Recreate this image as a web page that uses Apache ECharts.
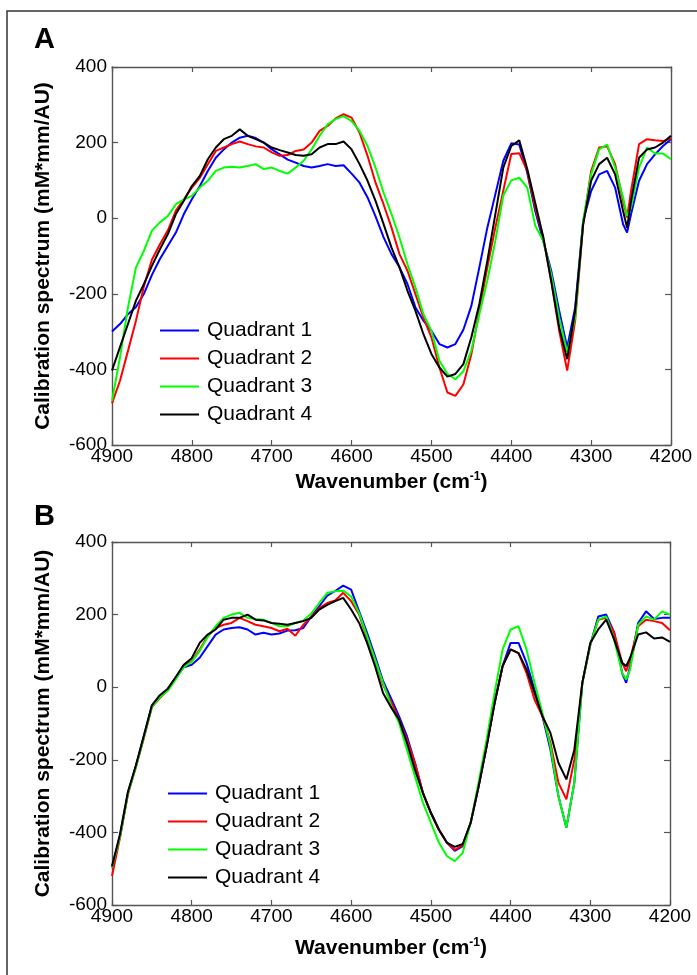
<!DOCTYPE html>
<html>
<head>
<meta charset="utf-8">
<script src="https://cdn.jsdelivr.net/npm/echarts@6/dist/echarts.min.js"></script>
<style>
html,body{margin:0;padding:0;background:#fff;}
#chart{width:697px;height:975px;}
</style>
</head>
<body>
<div id="chart"></div>
<script>
const WAVENUMBERS = [4900,4890,4880,4870,4860,4850,4840,4830,4820,4810,
  4800,4790,4780,4770,4760,4750,4740,4730,4720,4710,
  4700,4690,4680,4670,4660,4650,4640,4630,4620,4610,
  4600,4590,4580,4570,4560,4550,4540,4530,4520,4510,
  4500,4490,4480,4470,4460,4450,4440,4430,4420,4410,
  4400,4390,4380,4370,4360,4350,4340,4330,4320,4310,
  4300,4290,4280,4270,4260,
  4255,4250,4240,4230,4220,4210,4200];

const SERIES_NAMES = ['Quadrant 1','Quadrant 2','Quadrant 3','Quadrant 4'];
const X_TICKS = [4900,4800,4700,4600,4500,4400,4300,4200];
const Y_TICKS = [400,200,0,-200,-400,-600];

// Panel A
const A_Q1 = [-300,-280,-254,-235,-200,-150,-108,-73,-38,11,
  50,85,125,160,182,200,213,218,212,200,
  182,169,155,147,138,134,138,143,138,140,
  118,94,55,5,-50,-95,-130,-174,-236,-271,
  -298,-333,-342,-333,-295,-232,-130,-25,63,152,
  198,195,120,19,-60,-139,-245,-342,-236,-7,
  72,116,125,81,-16,
  -38,11,99,143,169,191,209];
const A_Q2 = [-490,-430,-351,-271,-180,-110,-69,-32,20,50,
  81,107,143,178,187,196,203,196,190,187,
  174,165,167,178,182,200,231,244,264,275,
  266,226,165,94,37,-25,-95,-139,-201,-263,
  -315,-395,-461,-470,-440,-360,-244,-130,-25,73,
  170,172,125,28,-51,-166,-298,-403,-271,-16,
  125,187,190,143,46,
  2,72,196,209,206,204,211];
const A_Q3 = [-483,-368,-236,-130,-86,-33,-11,6,37,50,
  59,81,99,125,134,136,134,138,143,130,
  134,125,118,134,152,182,218,248,262,270,
  257,231,191,134,68,11,-51,-122,-183,-254,
  -298,-377,-412,-426,-405,-350,-254,-165,-60,60,
  100,107,81,-20,-60,-148,-263,-355,-263,-7,
  116,182,195,134,55,
  6,28,134,187,171,171,156];
const A_Q4 = [-403,-341,-280,-218,-174,-126,-82,-42,11,46,
  85,112,156,187,209,218,235,218,209,200,
  187,180,174,167,165,169,187,196,196,203,
  182,143,99,46,-15,-78,-130,-192,-245,-307,
  -359,-395,-419,-412,-386,-315,-227,-113,10,134,
  191,206,130,40,-50,-166,-289,-373,-245,-16,
  99,143,160,116,19,
  -25,46,160,182,187,200,218];

// Panel B
const B_Q1 = [-497,-410,-291,-217,-135,-52,-25,-6,26,55,
  62,81,113,145,159,163,165,159,145,150,
  145,148,156,157,163,195,223,252,265,280,
  269,209,150,85,17,-30,-80,-135,-208,-291,
  -346,-392,-428,-451,-438,-373,-272,-162,-43,58,
  122,122,67,-6,-80,-172,-300,-387,-263,12,
  117,195,200,150,39,
  12,58,177,209,188,191,191];
const B_Q2 = [-520,-415,-295,-220,-140,-55,-30,-8,26,60,
  72,104,140,163,172,177,191,182,172,168,
  163,154,161,142,172,193,218,232,239,260,
  237,200,136,76,7,-40,-89,-144,-208,-291,
  -346,-392,-428,-448,-435,-373,-272,-162,-43,58,
  104,94,39,-34,-80,-153,-263,-309,-199,12,
  117,186,191,150,67,
  44,76,168,186,182,177,157];
const B_Q3 = [-497,-412,-293,-220,-137,-55,-28,-10,22,55,
  70,100,138,168,191,200,205,191,188,186,
  177,168,168,177,184,203,232,260,264,266,
  250,204,140,76,12,-50,-98,-172,-245,-318,
  -373,-428,-465,-479,-456,-373,-260,-144,-15,104,
  159,168,104,12,-71,-162,-300,-387,-263,12,
  117,186,195,131,39,
  21,49,172,195,186,209,200];
const B_Q4 = [-493,-405,-288,-215,-133,-50,-22,-4,28,62,
  80,122,145,159,186,191,191,200,186,184,
  177,175,172,177,182,191,214,227,237,246,
  214,177,122,58,-16,-55,-89,-153,-227,-291,
  -346,-392,-428,-440,-432,-373,-272,-162,-43,58,
  104,94,49,-15,-80,-126,-208,-254,-172,12,
  122,159,186,131,67,
  58,81,145,151,134,137,125];

const COLORS = ['#0000ff','#ff0000','#00ff00','#000000'];
const FONT = '"Liberation Sans", Arial, Helvetica, sans-serif';
const AXIS_COLOR = '#555';

function pairs(vals){ return WAVENUMBERS.map((w,i)=>[w, vals[i]]); }

const xMin = X_TICKS[X_TICKS.length-1], xMax = X_TICKS[0];
const yMin = Y_TICKS[Y_TICKS.length-1], yMax = Y_TICKS[0];

function xAxis(grid, pos, main, gap){
  return {
    type:'value', gridIndex:grid, position:pos, inverse:true,
    min:xMin, max:xMax, interval:100,
    axisLine:{show:true, onZero:false, lineStyle:{color:AXIS_COLOR, width:1.4}},
    axisTick:{show:true, inside:true, length:5, lineStyle:{color:AXIS_COLOR, width:1.2}},
    axisLabel:{show:main, fontSize:19, color:'#000', fontFamily:FONT, margin:2,
      formatter:function(v){ return String(v); }},
    splitLine:{show:false},
    name: main ? '{a|Wavenumber (cm}{b|-1}{a|)}' : '',
    nameLocation:'middle', nameGap:gap || 26,
    nameTextStyle:{rich:{
      a:{fontSize:21, fontWeight:'bold', fontFamily:FONT, color:'#000', lineHeight:22},
      b:{fontSize:12, fontWeight:'bold', fontFamily:FONT, color:'#000', verticalAlign:'top', lineHeight:22}
    }}
  };
}
function yAxis(grid, pos, main){
  return {
    type:'value', gridIndex:grid, position:pos,
    min:yMin, max:yMax, interval:200,
    axisLine:{show:true, onZero:false, lineStyle:{color:AXIS_COLOR, width:1.4}},
    axisTick:{show:true, inside:true, length:6, lineStyle:{color:AXIS_COLOR, width:1.2}},
    axisLabel:{show:main, fontSize:19, color:'#000', fontFamily:FONT, margin:5,
      formatter:function(v){ return String(v); }},
    splitLine:{show:false},
    name: main ? 'Calibration spectrum (mM*mm/AU)' : '',
    nameLocation:'middle', nameRotate:90, nameGap:58,
    nameTextStyle:{fontSize:21, fontWeight:'bold', fontFamily:FONT, color:'#000'}
  };
}

const dataA = [A_Q1, A_Q2, A_Q3, A_Q4];
const dataB = [B_Q1, B_Q2, B_Q3, B_Q4];
const series = [];
[dataA, dataB].forEach((set, g)=>{
  set.forEach((vals, i)=>{
    series.push({
      type:'line', name:SERIES_NAMES[i],
      xAxisIndex: g*2, yAxisIndex: g*2,
      data: pairs(vals), showSymbol:false, symbol:'none',
      lineStyle:{color:COLORS[i], width:2}, itemStyle:{color:COLORS[i]},
      silent:true, z: 2+i
    });
  });
});

function legend(left, top){
  return {
    data: SERIES_NAMES, orient:'vertical', left:left, top:top,
    icon:'rect', itemWidth:39, itemHeight:2, itemGap:7, padding:0,
    selectedMode:false,
    textStyle:{fontSize:21, fontFamily:FONT, color:'#000', lineHeight:21, padding:[0,0,0,3]}
  };
}

const chart = echarts.init(document.getElementById('chart'), null, {renderer:'canvas'});
chart.setOption({
  animation:false,
  backgroundColor:'#fff',
  grid:[
    {left:112, top:67, width:559, height:378, outerBoundsMode:'none'},
    {left:112, top:542, width:558, height:363, outerBoundsMode:'none'}
  ],
  xAxis:[xAxis(0,'bottom',true,26), xAxis(0,'top',false), xAxis(1,'bottom',true,32), xAxis(1,'top',false)],
  yAxis:[yAxis(0,'left',true), yAxis(0,'right',false), yAxis(1,'left',true), yAxis(1,'right',false)],
  legend:[legend(160, 320), legend(168, 783)],
  series: series,
  graphic:[
    {type:'polyline', silent:true, shape:{points:[[7,975],[7,11],[697,11]]}, style:{stroke:'#333', lineWidth:1.5, fill:null}},
    {type:'text', silent:true, style:{text:'A', x:34, y:40, font:'bold 29px ' + FONT, fill:'#000', textVerticalAlign:'middle'}},
    {type:'text', silent:true, style:{text:'B', x:34, y:517, font:'bold 29px ' + FONT, fill:'#000', textVerticalAlign:'middle'}}
  ]
});
</script>
</body>
</html>
